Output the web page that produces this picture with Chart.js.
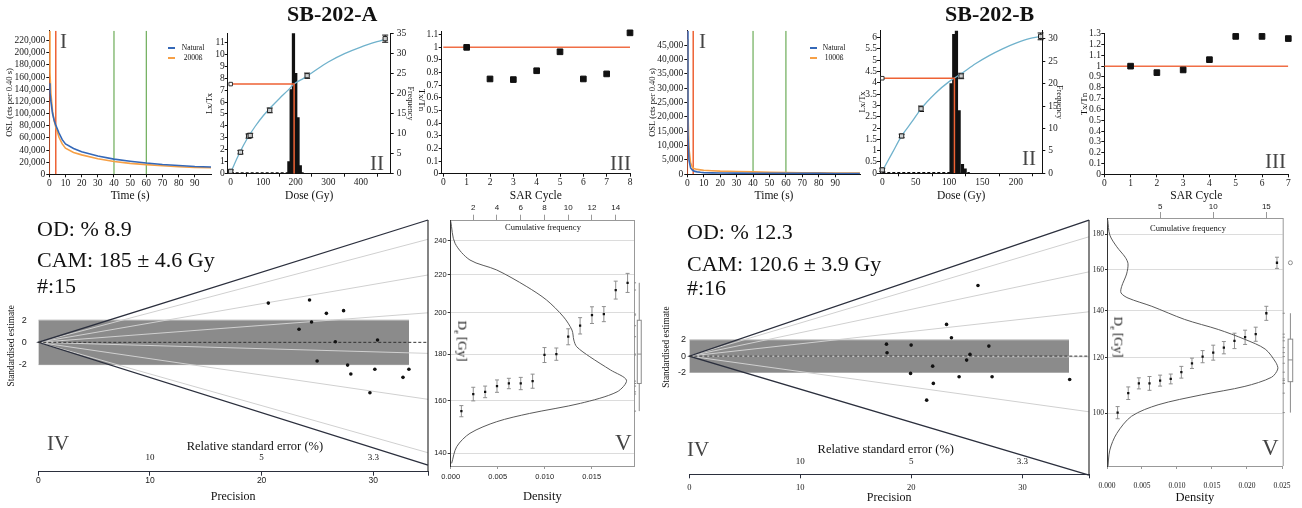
<!DOCTYPE html>
<html>
<head>
<meta charset="utf-8">
<title>SB-202 OSL summary</title>
<script src="https://cdn.jsdelivr.net/npm/chart.js@4.4.1/dist/chart.umd.min.js"></script>
<style>
  body { margin: 0; width: 1302px; height: 508px; position: relative; overflow: hidden; background: #fff; font-family: "Liberation Serif", "Times New Roman", serif; color: #111; }
  canvas { position: absolute; }
  .t { position: absolute; white-space: nowrap; line-height: 1; }
  .num { color: #444; font-size: 21px; }
  .stat { font-size: 22px; }
  .key { position: absolute; height: 2px; width: 7px; }
  .lab { font-size: 7.5px; width: 26px; text-align: center; }
</style>
</head>
<body>
<canvas id="oslA" width="216" height="185" style="left:0;top:20px"></canvas>
<canvas id="growA" width="212" height="185" style="left:205px;top:20px"></canvas>
<canvas id="tnA" width="222" height="185" style="left:415px;top:20px"></canvas>
<canvas id="oslB" width="216" height="185" style="left:648px;top:20px"></canvas>
<canvas id="growB" width="211" height="185" style="left:855px;top:20px"></canvas>
<canvas id="tnB" width="222" height="185" style="left:1076px;top:20px"></canvas>
<canvas id="radA" width="432" height="298" style="left:0;top:210px"></canvas>
<canvas id="kdeA" width="212" height="308" style="left:432px;top:200px"></canvas>
<canvas id="radB" width="443" height="298" style="left:650px;top:210px"></canvas>
<canvas id="kdeB" width="209" height="308" style="left:1093px;top:200px"></canvas>

<div class="t" style="left:287px;top:3px;font-size:22px;font-weight:bold">SB-202-A</div>
<div class="t" style="left:945px;top:3px;font-size:22px;font-weight:bold">SB-202-B</div>

<!-- legends of panel I -->
<div class="key" style="left:168px;top:47px;background:rgb(52,104,184)"></div>
<div class="t lab" style="left:180px;top:44px">Natural</div>
<div class="key" style="left:168px;top:57px;background:rgb(246,160,70)"></div>
<div class="t lab" style="left:180px;top:54px">2000ß</div>
<div class="key" style="left:810px;top:47px;background:rgb(52,104,184)"></div>
<div class="t lab" style="left:821px;top:44px">Natural</div>
<div class="key" style="left:810px;top:57px;background:rgb(246,160,70)"></div>
<div class="t lab" style="left:821px;top:54px">1000ß</div>

<!-- panel III (A) axis title, turned the other way as in the source figure -->
<div class="t" style="left:421px;top:100px;font-size:9px;transform:translate(-50%,-50%) rotate(90deg)">Tx/Tn</div>

<!-- panel numbers -->
<div class="t num" style="left:60px;top:31px">I</div>
<div class="t num" style="left:370px;top:153px">II</div>
<div class="t num" style="left:610px;top:153px">III</div>
<div class="t num" style="left:699px;top:31px">I</div>
<div class="t num" style="left:1022px;top:148px">II</div>
<div class="t num" style="left:1265px;top:151px">III</div>
<div class="t num" style="left:47px;top:433px">IV</div>
<div class="t num" style="left:687px;top:439px">IV</div>
<div class="t num" style="left:615px;top:431px;font-size:23px">V</div>
<div class="t num" style="left:1262px;top:436px;font-size:23px">V</div>

<!-- central age model summaries -->
<div class="t stat" style="left:37px;top:218px">OD: % 8.9</div>
<div class="t stat" style="left:37px;top:249px">CAM: 185 ± 4.6 Gy</div>
<div class="t stat" style="left:37px;top:275px">#:15</div>
<div class="t stat" style="left:687px;top:221px">OD: % 12.3</div>
<div class="t stat" style="left:687px;top:253px">CAM: 120.6 ± 3.9 Gy</div>
<div class="t stat" style="left:687px;top:277px">#:16</div>

<div class="t" style="left:543px;top:223px;font-size:8.5px;transform:translateX(-50%)">Cumulative frequency</div>
<div class="t" style="left:1188px;top:224px;font-size:8.5px;transform:translateX(-50%)">Cumulative frequency</div>
<div class="t" style="left:461px;top:341px;font-size:13px;transform:translate(-50%,-50%) rotate(90deg)">D<sub style="font-size:8px">e</sub> [Gy]</div>
<div class="t" style="left:1117px;top:337px;font-size:13px;transform:translate(-50%,-50%) rotate(90deg)">D<sub style="font-size:8px">e</sub> [Gy]</div>

<script>
// ---------- data ----------

// Panel I: OSL decay curves, counts per 0.40 s
const timeA = [0, 0.4, 1, 2, 3, 4, 6, 8, 10, 15, 20, 30, 40, 50, 60, 70, 80, 90, 100];
const naturalA = [150000, 135000, 120000, 100000, 89000, 81000, 68000, 57000, 50000, 42500, 37000, 30000, 25000, 21500, 18500, 16200, 14500, 12800, 12000];
const regenA = [236000, 168000, 133000, 104000, 88000, 78000, 61000, 50000, 43000, 36000, 32000, 25500, 21000, 18000, 16000, 14000, 12500, 11200, 10800];
const timeB = [0, 0.4, 1, 2, 3, 4, 6, 8, 10, 15, 20, 30, 40, 50, 60, 70, 80, 90, 100, 105];
const naturalB = [50000, 14000, 5000, 2200, 1500, 1100, 850, 700, 600, 500, 450, 400, 380, 350, 330, 320, 310, 300, 290, 290];
const regenB = [47000, 22000, 9000, 4000, 2600, 2000, 1700, 1550, 1400, 1250, 1100, 950, 850, 700, 600, 520, 480, 450, 420, 400];
const signalLinesA = [0, 4];
const signalLinesB = [0, 3.6];
const backgroundLines = [40, 60];

// Panel II: dose response
const doseA = [0, 30, 55, 60, 120, 235, 475];
const lxTxA = [0.2, 1.8, 3.15, 3.2, 5.3, 8.2, 11.3];
const lxTxErrA = [0.12, 0.15, 0.18, 0.18, 0.2, 0.22, 0.3];
const fitDoseA = [0, 25, 50, 75, 100, 125, 150, 175, 195, 225, 250, 300, 350, 400, 450, 475];
const fitLxTxA = [0.1, 1.6, 2.9, 3.95, 4.85, 5.6, 6.3, 6.95, 7.5, 8.0, 8.45, 9.35, 10.05, 10.6, 11.05, 11.25];
const naturalLxTxA = 7.5;
const equivDoseA = 195;
const histDoseA = [179, 186, 193, 200, 207, 214];
const histCountA = [3, 21, 36, 25, 14, 2];

const doseB = [0, 29, 58, 118, 237];
const lxTxB = [0.15, 1.65, 2.85, 4.3, 6.05];
const lxTxErrB = [0.08, 0.08, 0.12, 0.12, 0.15];
const fitDoseB = [0, 15, 29, 45, 58, 80, 100, 118, 140, 160, 180, 200, 220, 237];
const fitLxTxB = [0.1, 0.9, 1.65, 2.3, 2.85, 3.55, 4.05, 4.4, 4.85, 5.2, 5.5, 5.75, 5.95, 6.05];
const naturalLxTxB = 4.2;
const equivDoseB = 108;
const histDoseB = [103, 107, 111, 115, 120, 124];
const histCountB = [20, 31, 33, 14, 2, 1];

// Panel III: sensitivity (Tx/Tn) per SAR cycle
const cyclesA = [1, 2, 3, 4, 5, 6, 7, 8];
const tnA = [1.0, 0.75, 0.745, 0.815, 0.965, 0.75, 0.79, 1.115];
const cyclesB = [1, 2, 3, 4, 5, 6, 7];
const tnB = [1.0, 0.94, 0.965, 1.06, 1.275, 1.275, 1.255];

// Panel IV: radial plots (precision, standardised estimate)
const precisionA = [20.6, 23.35, 24.29, 24.47, 24.97, 25.8, 26.6, 27.34, 27.7, 27.99, 29.7, 30.14, 30.38, 32.66, 33.19];
const zA = [3.52, 1.17, 3.79, 1.82, -1.68, 2.6, 0.05, 2.84, -2.04, -2.84, -4.52, -2.42, 0.21, -3.14, -2.42];
const radialDoseA = [240, 220, 200, 180, 160, 140];
const radialEndZA = [9.24, 6.04, 2.65, -0.99, -5.11, -9.9];
const wedgeA = [10.97, -11.0];
const precisionB = [17.76, 17.81, 19.98, 19.93, 21.38, 21.92, 21.98, 23.17, 23.61, 24.3, 24.98, 25.28, 26.0, 26.98, 27.27, 34.26];
const zB = [1.47, 0.41, 1.35, -2.12, -5.4, -1.23, -3.35, 3.89, 2.25, -2.54, -0.49, 0.21, 8.67, 1.23, -2.54, -2.86];
const radialDoseB = [180, 160, 140, 120, 100];
const radialEndZB = [14.64, 10.34, 5.44, -0.09, -6.83];
const wedgeB = [16.69, -14.6];
const rseLabels = ['10', '5', '3.3'];
const rsePrecision = [10, 20, 30];

// Panel V: sorted De values and kernel density
const deA = [155.8, 162.7, 163.6, 166, 167.1, 167.1, 168.1, 179.6, 180, 188.1, 193.4, 198.7, 199.2, 211.7, 215.6];
const deErrA = [2.2, 2.8, 2.4, 2.6, 2.2, 2.6, 3.0, 3.4, 2.8, 3.8, 4.0, 4.2, 3.8, 4.8, 5.2];
const kdeDoseA = [252, 238.3, 228.4, 222.7, 213.5, 206.4, 197.8, 191.3, 186.5, 183.4, 178.8, 172.9, 168.5, 163.6, 158.9, 154.9, 151.7, 147.3, 142.4, 136.5];
const kdeDensA = [0, 0.00046, 0.00205, 0.0049, 0.0081, 0.0102, 0.012, 0.0129, 0.0131, 0.0134, 0.0148, 0.017, 0.0187, 0.0177, 0.0138, 0.0084, 0.0049, 0.00205, 0.00064, 0.0001];
const boxA = { min: 155.8, q1: 167.1, median: 180, q3: 196.1, max: 215.6 };

const deB = [100.2, 106.8, 110.3, 110.3, 111.3, 111.9, 114.4, 117.8, 120.4, 122, 124, 126.8, 128.3, 129.6, 138.8, 163.8];
const deErrB = [2.0, 2.2, 2.0, 2.5, 2.0, 1.8, 2.2, 2.0, 2.4, 3.0, 2.5, 3.2, 3.0, 3.0, 3.2, 3.0];
const kdeDoseB = [188.6, 179.4, 172.6, 166.8, 163.3, 157.9, 151.6, 148.4, 145.9, 142.0, 136.0, 131.6, 127.4, 123.4, 118.2, 115.6, 112.5, 109.2, 106.2, 102.8, 99.0, 93.6, 88.6, 83.0];
const kdeDensB = [0.0001, 0.0004, 0.0014, 0.0026, 0.003, 0.0028, 0.0021, 0.002, 0.003, 0.0064, 0.0111, 0.0159, 0.0197, 0.0226, 0.0241, 0.0244, 0.0235, 0.0197, 0.0135, 0.0073, 0.0035, 0.0014, 0.0004, 0.0001];
const boxB = { min: 100.2, q1: 110.9, median: 119.1, q3: 127.5, max: 138.8 };
const outliersB = [163.8];

// ---------- styling helpers ----------
const SERIF = "'Liberation Serif', 'Times New Roman', serif";
const SANS = "'Liberation Sans', Arial, sans-serif";
const BLUE = 'rgb(52,104,184)';
const ORANGE = 'rgb(246,160,70)';
const RED = 'rgb(238,98,52)';
const GREEN = 'rgb(108,172,88)';
const CYAN = 'rgb(112,178,204)';

const pts = (xs, ys) => xs.map((x, i) => ({ x: x, y: ys[i] }));
const seq = n => Array.from({ length: n }, (_, i) => i + 1);

function lineSet(data, color, width, extra) {
    return Object.assign({
        data: data, showLine: true, borderColor: color, borderWidth: width,
        pointRadius: 0, pointHoverRadius: 0, fill: false, tension: 0
    }, extra || {});
}

// axis with fixed ticks and a fixed box size so the plot areas line up
function axis(o) {
    const tick = o.tick === undefined ? 3 : o.tick;
    const s = {
        type: o.type || 'linear',
        position: o.position,
        min: o.min,
        max: o.max,
        bounds: 'data',
        offset: false,
        afterBuildTicks: sc => { sc.ticks = o.ticks.map(v => ({ value: v })); },
        afterFit: sc => {
            if (sc.isHorizontal()) sc.height = o.size; else sc.width = o.size;
            sc.paddingLeft = sc.paddingRight = sc.paddingTop = sc.paddingBottom = 0;
        },
        border: { display: !o.noLine, color: o.line || '#111', width: 1 },
        grid: {
            display: true, drawOnChartArea: !!o.gridColor, color: o.gridColor || '#111',
            tickColor: o.line || '#111', drawTicks: tick > 0, tickLength: tick
        },
        ticks: {
            display: true, autoSkip: false, maxRotation: 0, minRotation: 0,
            padding: o.pad || 0, color: '#1a1a1a',
            font: { family: o.family || SERIF, size: o.fontSize || 9.5 }
        },
        title: {
            display: !!o.title, text: o.title || '', color: '#111', padding: o.titlePad || 0,
            font: { family: SERIF, size: o.titleSize || 11.5 }
        }
    };
    if (o.fmt) s.ticks.callback = o.fmt;
    return s;
}

function makeChart(id, padding, scales, datasets, plugins) {
    return new Chart(document.getElementById(id), {
        type: 'scatter',
        data: { datasets: datasets },
        options: {
            responsive: false, maintainAspectRatio: false, animation: false, events: [],
            layout: { padding: padding },
            plugins: { legend: { display: false }, tooltip: { enabled: false } },
            scales: scales
        },
        plugins: plugins || []
    });
}

// error bars for any dataset carrying an "errors" array
const errorBars = {
    id: 'errorBars',
    beforeDatasetsDraw(chart) {
        const ctx = chart.ctx;
        chart.data.datasets.forEach((ds, i) => {
            if (!ds.errors) return;
            const meta = chart.getDatasetMeta(i);
            const xs = chart.scales[meta.xAxisID];
            const ys = chart.scales[meta.yAxisID];
            const c = ds.capWidth || 2;
            ctx.save();
            ctx.strokeStyle = ds.errorColor || '#111';
            ctx.lineWidth = 1;
            ds.data.forEach((p, j) => {
                const x = xs.getPixelForValue(p.x);
                const lo = ys.getPixelForValue(p.y - ds.errors[j]);
                const hi = ys.getPixelForValue(p.y + ds.errors[j]);
                ctx.beginPath();
                ctx.moveTo(x, lo); ctx.lineTo(x, hi);
                ctx.moveTo(x - c, lo); ctx.lineTo(x + c, lo);
                ctx.moveTo(x - c, hi); ctx.lineTo(x + c, hi);
                ctx.stroke();
            });
            ctx.restore();
        });
    }
};

const frameRight = {
    id: 'frameRight',
    afterDraw(chart) {
        const { ctx, chartArea: a } = chart;
        ctx.save();
        ctx.strokeStyle = '#999';
        ctx.lineWidth = 1;
        ctx.beginPath();
        ctx.moveTo(a.right + 0.5, a.top);
        ctx.lineTo(a.right + 0.5, a.bottom);
        ctx.stroke();
        ctx.restore();
    }
};

function boxPlot(stats, centre, half, values, rugFrom, rugTo, outliers) {
    return {
        id: 'boxPlot',
        afterDraw(chart) {
            const { ctx, scales: { x, y } } = chart;
            const cx = x.getPixelForValue(centre);
            const w = x.getPixelForValue(centre + half) - cx;
            const py = v => y.getPixelForValue(v);
            ctx.save();
            ctx.strokeStyle = '#8a8a8a';
            ctx.lineWidth = 1;
            ctx.beginPath();
            ctx.moveTo(cx, py(stats.min)); ctx.lineTo(cx, py(stats.max));
            ctx.stroke();
            ctx.fillStyle = '#fff';
            ctx.fillRect(cx - w, py(stats.q3), 2 * w, py(stats.q1) - py(stats.q3));
            ctx.strokeRect(cx - w, py(stats.q3), 2 * w, py(stats.q1) - py(stats.q3));
            ctx.beginPath();
            ctx.moveTo(cx - w, py(stats.median)); ctx.lineTo(cx + w, py(stats.median));
            const r0 = x.getPixelForValue(rugFrom), r1 = x.getPixelForValue(rugTo);
            values.forEach(v => { ctx.moveTo(r0, py(v)); ctx.lineTo(r1, py(v)); });
            ctx.stroke();
            (outliers || []).forEach(v => {
                ctx.beginPath();
                ctx.arc(cx, py(v), 2, 0, 2 * Math.PI);
                ctx.stroke();
            });
            ctx.restore();
        }
    };
}

// relative standard error labels sit inside the radial plot above the precision axis
function rseAxis(labelDy, titleDy, titleAt) {
    return {
        id: 'rseAxis',
        afterDraw(chart) {
            const { ctx, chartArea, scales: { x } } = chart;
            ctx.save();
            ctx.fillStyle = '#111';
            ctx.textAlign = 'center';
            ctx.textBaseline = 'middle';
            ctx.font = '9px ' + SERIF;
            rseLabels.forEach((t, i) => ctx.fillText(t, x.getPixelForValue(rsePrecision[i]), chartArea.bottom - labelDy));
            ctx.font = '12.5px ' + SERIF;
            ctx.fillText('Relative standard error (%)', x.getPixelForValue(titleAt), chartArea.bottom - titleDy);
            ctx.restore();
        }
    };
}

// ---------- panel I ----------
function oslPanel(id, t, nat, reg, sig, xMax, yMax, yTicks, yAxisSize, titlePad, padRight) {
    const vertical = (x, color, w) => lineSet([{ x: x, y: 0 }, { x: x, y: yMax }], color, w);
    makeChart(id, { top: 10.7, right: padRight, left: 0, bottom: 0 }, {
        x: axis({ position: 'bottom', min: 0, max: xMax, ticks: [0, 10, 20, 30, 40, 50, 60, 70, 80, 90],
            size: 30.7, title: 'Time (s)', titlePad: 2 }),
        y: axis({ position: 'left', min: 0, max: yMax, ticks: yTicks, size: yAxisSize, pad: 1,
            fmt: v => v.toLocaleString('en-US'), title: 'OSL (cts per 0.40 s)', titleSize: 8.5, titlePad: titlePad })
    }, [
        lineSet(pts(t, nat), BLUE, 1.6),
        lineSet(pts(t, reg), ORANGE, 1.6),
        ...sig.map(x => vertical(x, RED, 1.5)),
        ...backgroundLines.map(x => vertical(x, GREEN, 1.2))
    ]);
}
oslPanel('oslA', timeA, naturalA, regenA, signalLinesA, 100, 236400,
    [0, 20000, 40000, 60000, 80000, 100000, 120000, 140000, 160000, 180000, 200000, 220000], 49.3, 4.9, 5);
oslPanel('oslB', timeB, naturalB, regenB, signalLinesB, 105.5, 50000,
    [0, 5000, 10000, 15000, 20000, 25000, 30000, 35000, 40000, 45000], 39.3, 0, 3.3);

// ---------- panel II ----------
function growthPanel(id, p) {
    makeChart(id, { top: p.top, right: 0, left: 0, bottom: 0 }, {
        x: axis({ position: 'bottom', min: p.xMin, max: p.xMax, ticks: p.xTicks, size: p.xSize,
            title: 'Dose (Gy)', titlePad: 2 }),
        y: axis({ position: 'left', min: 0, max: p.yMax, ticks: p.yTicks, size: p.ySize, fmt: v => String(v),
            title: 'Lx/Tx', titleSize: 8.5, titlePad: p.yTitlePad }),
        y2: axis({ position: 'right', min: 0, max: p.fMax, ticks: p.fTicks, size: p.fSize, pad: 3,
            title: 'Frequency', titleSize: 8, titlePad: p.fTitlePad })
    }, [
        { data: [{ x: 0, y: p.ln }], pointStyle: 'rect', pointRadius: 2.5, backgroundColor: '#fff', borderColor: '#333', borderWidth: 1 },
        { data: pts(p.dose, p.lx), errors: p.err, capWidth: 3, pointStyle: 'rect', pointRadius: 3,
          backgroundColor: 'rgba(215,215,215,0.9)', borderColor: '#222', borderWidth: 1, clip: false },
        lineSet([{ x: 0, y: p.ln }, { x: p.de, y: p.ln }, { x: p.de, y: 0 }], RED, 1.5),
        lineSet(pts(p.fitDose, p.fitLx), CYAN, 1.3, { cubicInterpolationMode: 'monotone' }),
        { type: 'bar', yAxisID: 'y2', data: pts(p.histDose, p.histCount), backgroundColor: '#111',
          barThickness: 2.6, grouped: false },
        lineSet([{ x: 0, y: 0.15 }, { x: p.dashEnd, y: 0.15 }], '#111', 1.5, { yAxisID: 'y2', borderDash: [3, 2] })
    ], [errorBars]);
}
growthPanel('growA', {
    top: 13.3, xMin: -9.2, xMax: 492, xTicks: [0, 100, 200, 300, 400], xSize: 31.3,
    yMax: 11.75, yTicks: [0, 1, 2, 3, 4, 5, 6, 7, 8, 9, 10, 11], ySize: 22.7, yTitlePad: 0,
    fMax: 35, fTicks: [0, 5, 10, 15, 20, 25, 30, 35], fSize: 26.3, fTitlePad: 2,
    dose: doseA, lx: lxTxA, err: lxTxErrA, fitDose: fitDoseA, fitLx: fitLxTxA,
    ln: naturalLxTxA, de: equivDoseA, histDose: histDoseA, histCount: histCountA, dashEnd: 230
});
growthPanel('growB', {
    top: 10.7, xMin: -3.4, xMax: 239.5, xTicks: [0, 50, 100, 150, 200], xSize: 31.7,
    yMax: 6.3, yTicks: [0, 0.5, 1, 1.5, 2, 2.5, 3, 3.5, 4, 4.5, 5, 5.5, 6], ySize: 25, yTitlePad: 2.4,
    fMax: 31.8, fTicks: [0, 5, 10, 15, 20, 25, 30], fSize: 23.7, fTitlePad: 1.7,
    dose: doseB, lx: lxTxB, err: lxTxErrB, fitDose: fitDoseB, fitLx: fitLxTxB,
    ln: naturalLxTxB, de: equivDoseB, histDose: histDoseB, histCount: histCountB, dashEnd: 131
});

// ---------- panel III ----------
function tnPanel(id, cycles, tn, p) {
    makeChart(id, { top: p.top, right: p.right, left: 0, bottom: 0 }, {
        x: axis({ position: 'bottom', min: p.xMin, max: p.xMax, ticks: p.xTicks, size: p.xSize,
            title: 'SAR Cycle', titlePad: 2 }),
        y: axis({ position: 'left', min: 0, max: p.yMax, ticks: p.yTicks, size: p.ySize, pad: 0.4,
            fmt: v => String(v), title: p.yTitle, titleSize: 9, titlePad: p.titlePad })
    }, [
        { data: pts(cycles, tn), pointStyle: 'rect', pointRadius: 4, backgroundColor: '#111', borderColor: '#111', clip: false },
        lineSet([{ x: 0, y: 1 }, { x: p.xMax, y: 1 }], 'rgb(240,110,70)', 1.5)
    ]);
}
tnPanel('tnA', cyclesA, tnA, {
    top: 11.7, right: 7, xMin: -0.07, xMax: 8, xTicks: [0, 1, 2, 3, 4, 5, 6, 7, 8], xSize: 31.3,
    yMax: 1.124, yTicks: [0, 0.1, 0.2, 0.3, 0.4, 0.5, 0.6, 0.7, 0.8, 0.9, 1, 1.1], ySize: 26.7,
    yTitle: '', titlePad: 0
});
tnPanel('tnB', cyclesB, tnB, {
    top: 13.7, right: 9.7, xMin: 0, xMax: 7, xTicks: [0, 1, 2, 3, 4, 5, 6, 7], xSize: 30.7,
    yMax: 1.3, yTicks: [0, 0.1, 0.2, 0.3, 0.4, 0.5, 0.6, 0.7, 0.8, 0.9, 1, 1.1, 1.2, 1.3], ySize: 28.3,
    yTitle: 'Tx/Tn', titlePad: 3.1
});

// ---------- panel IV ----------
function radialPanel(id, p) {
    const end = p.pEnd;
    makeChart(id, { top: 10, right: 0.3, left: 0, bottom: 0 }, {
        x: axis({ position: 'bottom', min: 0, max: end, ticks: [0, 10, 20, 30, end], size: p.xSize,
            tick: 4, pad: p.xPad, family: p.xFamily, fontSize: 8.5, line: '#2b2f3d',
            fmt: (v, i) => (i === 4 ? '' : String(v)), title: 'Precision', titleSize: 12, titlePad: p.xTitlePad }),
        y: axis({ position: 'left', min: p.yMin, max: p.yMax, ticks: [-2, 0, 2], size: p.ySize, tick: 0,
            pad: p.yPad, noLine: true, family: SANS, fontSize: 9,
            title: 'Standardised estimate', titleSize: 9.3, titlePad: p.yTitlePad })
    }, [
        { data: pts(p.precision, p.z), pointRadius: 1.8, backgroundColor: '#111', borderColor: '#111', borderWidth: 0 },
        lineSet([{ x: 0, y: 0 }, { x: end, y: 0 }], '#333', 1, { borderDash: [3, 2], clip: false }),
        lineSet([{ x: end, y: p.wedge[0] }, { x: 0, y: 0 }, { x: end, y: p.wedge[1] }], '#2b2f3d', 1.3, { clip: false }),
        lineSet([{ x: end, y: p.yMin }, { x: end, y: p.yMax }], '#333', 1.2, { clip: false }),
        ...p.ends.map(zEnd => lineSet([{ x: 0, y: 0 }, { x: end, y: zEnd }], 'rgb(208,208,208)', 1)),
        lineSet([{ x: 0, y: 2 }, { x: p.bandEnd, y: 2 }], '#c8c8c8', 1, { fill: '+1', backgroundColor: '#8b8b8b' }),
        lineSet([{ x: 0, y: -2 }, { x: p.bandEnd, y: -2 }], '#c8c8c8', 1)
    ], [rseAxis(p.labelDy, p.titleDy, p.titleAt)]);
}
radialPanel('radA', {
    pEnd: 34.9, bandEnd: 33.2, yMin: -11.6, yMax: 10.97, precision: precisionA, z: zA,
    wedge: wedgeA, ends: radialEndZA, xSize: 36.3, xPad: 0, xFamily: SANS, xTitlePad: 4.1,
    ySize: 38.3, yPad: 11.6, yTitlePad: 6.1, labelDy: 13.7, titleDy: 24.7, titleAt: 19.4
});
radialPanel('radB', {
    pEnd: 36, bandEnd: 34.2, yMin: -14.5, yMax: 16.7, precision: precisionB, z: zB,
    wedge: wedgeB, ends: radialEndZB, xSize: 33.7, xPad: 4, xFamily: SERIF, xTitlePad: 2.8,
    ySize: 39.3, yPad: 3.3, yTitlePad: 10.9, labelDy: 12.6, titleDy: 25, titleAt: 17.7
});

// ---------- panel V ----------
function kdePanel(id, p) {
    makeChart(id, { top: 0, right: p.right, left: 0, bottom: 0 }, {
        x: axis({ position: 'bottom', min: 0, max: p.dMax, ticks: p.dTicks, size: 42, pad: p.dPad,
            family: p.family, fontSize: 7.5, line: '#999', fmt: v => v.toFixed(3),
            title: 'Density', titleSize: 12.5, titlePad: p.dTitlePad }),
        x2: axis({ position: 'top', min: p.cMin, max: p.cMax, ticks: p.cTicks, size: p.topSize, tick: 6,
            pad: p.cPad, family: SANS, fontSize: 8, line: '#999' }),
        y: axis({ type: 'logarithmic', position: 'left', min: p.yMin, max: p.yMax, ticks: p.yTicks,
            size: p.ySize, tick: p.yTick, pad: 1, family: p.family, fontSize: 7.5, line: '#333',
            gridColor: '#dcdcdc', fmt: v => String(v) })
    }, [
        { xAxisID: 'x2', data: pts(seq(p.de.length), p.de), errors: p.err, errorColor: '#8f8f8f', capWidth: 2,
          pointStyle: 'rect', pointRadius: 1.6, backgroundColor: '#111', borderColor: '#111', borderWidth: 0 },
        lineSet(pts(p.dens, p.dose), '#5a5a5a', 1, { tension: 0.3 })
    ], [errorBars, frameRight,
        boxPlot(p.box, p.boxAt, p.boxHalf, p.de.filter(v => !(p.outliers || []).includes(v)), p.rugFrom, p.rugTo, p.outliers)]);
}
kdePanel('kdeA', {
    right: 10, dMax: 0.0195, dTicks: [0, 0.005, 0.01, 0.015], dPad: 3, dTitlePad: 3.8, family: SANS,
    cMin: 0.1, cMax: 15.54, cTicks: [2, 4, 6, 8, 10, 12, 14], topSize: 20.7, cPad: 2,
    yMin: 135.6, yMax: 252.3, yTicks: [140, 160, 180, 200, 220, 240], ySize: 18.7, yTick: 3,
    de: deA, err: deErrA, dens: kdeDensA, dose: kdeDoseA,
    box: boxA, boxAt: 0.02006, boxHalf: 0.00021, rugFrom: 0.0195, rugTo: 0.01972
});
kdePanel('kdeB', {
    right: 19.3, dMax: 0.0251, dTicks: [0, 0.005, 0.01, 0.015, 0.02, 0.025], dPad: 13, dTitlePad: 2.8, family: SERIF,
    cMin: 0, cMax: 16.54, cTicks: [5, 10, 15], topSize: 18, cPad: 0.5,
    yMin: 84.1, yMax: 189.7, yTicks: [100, 120, 140, 160, 180], ySize: 14, yTick: 2,
    de: deB, err: deErrB, dens: kdeDensB, dose: kdeDoseB,
    box: boxB, boxAt: 0.0262, boxHalf: 0.00033, rugFrom: 0.0251, rugTo: 0.0254, outliers: outliersB
});
</script>
</body>
</html>
